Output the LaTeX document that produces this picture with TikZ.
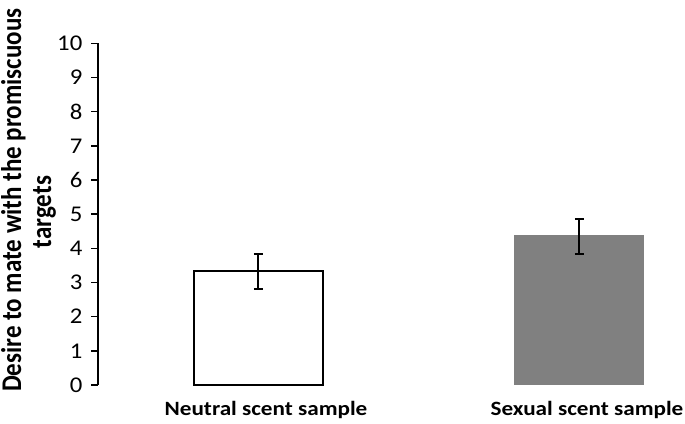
\documentclass[tikz,border=0pt]{standalone}
\usepackage{fontspec}
\setmainfont{Carlito}
\usepackage{graphicx}
\begin{document}
\begin{tikzpicture}[x=1bp,y=1bp,
  axisline/.style={line width=1.6bp,black},
  ticklab/.style={anchor=east,inner sep=0pt,font=\fontsize{22.5bp}{24bp}\selectfont},
  catlab/.style={anchor=base,inner sep=0pt,font=\bfseries\fontsize{20.3bp}{24bp}\selectfont},
  ylab/.style={rotate=90,anchor=base west,inner sep=0pt,font=\bfseries\fontsize{25bp}{30bp}\selectfont},
  bar/.style={line width=1.8bp},
  errbar/.style={line width=1.9bp,black}]
\useasboundingbox (0,0) rectangle (685,423);
\def\ux{97.7}
\def\uy{34.17}
% axis
\coordinate (ax0) at (\ux,38);
\coordinate (ax10) at (\ux,{38+10*\uy});
\draw[axisline] (ax0) -- (ax10);
\foreach \v in {0,...,10}{
  \coordinate (t\v) at (\ux,{38+\v*\uy});
  \draw[axisline] (t\v) -- ++(-6.7,0);
  \node[ticklab] (tl\v) at (82.5,{38+\v*\uy}) {\scalebox{1.1}[1]{\v}};
}
% bars
\draw[bar,fill=white] (193.7,38) rectangle (323,{38+3.33*\uy});
\fill[fill={rgb,255:red,128;green,128;blue,128}] (514.3,38) rectangle (644.3,{38+4.39*\uy});
% error bars
\coordinate (e1t) at (258.3,{38+3.843*\uy});
\coordinate (e1b) at (258.3,{38+2.818*\uy});
\coordinate (e2t) at (579.3,{38+4.867*\uy});
\coordinate (e2b) at (579.3,{38+3.843*\uy});
\draw[errbar] (e1t) -- (e1b);
\draw[errbar] ([xshift=-4.5bp]e1t) -- ([xshift=4.5bp]e1t);
\draw[errbar] ([xshift=-4.5bp]e1b) -- ([xshift=4.5bp]e1b);
\draw[errbar] (e2t) -- (e2b);
\draw[errbar] ([xshift=-4.5bp]e2t) -- ([xshift=4.5bp]e2t);
\draw[errbar] ([xshift=-4.5bp]e2b) -- ([xshift=4.5bp]e2b);
% category labels
\node[catlab] (c1) at (266,8) {\scalebox{1.14}[1]{Neutral scent sample}};
\node[catlab] (c2) at (587,8) {\scalebox{1.14}[1]{Sexual scent sample}};
% y label
\node[ylab] (yl1) at (21,31) {\scalebox{1}[1.14]{Desire to mate with the promiscuous}};
\node[ylab,anchor=base] (yl2) at (51,211) {\scalebox{1}[1.14]{targets}};
\end{tikzpicture}
\end{document}
